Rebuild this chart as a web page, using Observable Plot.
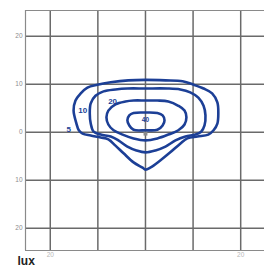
<!DOCTYPE html>
<html>
<head>
<meta charset="utf-8">
<script src="https://cdn.jsdelivr.net/npm/d3@7"></script>
<script src="https://cdn.jsdelivr.net/npm/@observablehq/plot@0.6"></script>
<style>
  html, body { margin: 0; padding: 0; background: #fff; }
  #chart { position: relative; width: 265px; height: 266px; overflow: hidden; }
</style>
</head>
<body>
<div id="chart"></div>
<script>
// Isolux contour levels (lux)
const levels = [5, 10, 20, 40];

// Contour 5 lux
const c5x = [0, 4.2, 7.8, 10.1, 12.2, 14.0, 15.1, 15.3, 15.1, 14.3, 13.2, 10.9, 8.8, 7.3, 5.2, 3.1, 1.0, 0, -0.6, -2.5, -4.6, -6.3, -7.8, -9.4, -11.5, -13.2, -14.0, -14.5, -15.1, -14.7, -13.6, -12.2, -10.1, -7.3, -3.6];
const c5y = [10.9, 10.8, 10.6, 9.9, 9.1, 8.1, 6.2, 3.9, 1.8, 0.4, -0.5, -0.9, -1.3, -2.4, -4.2, -5.9, -7.4, -7.8, -7.4, -6.3, -4.4, -2.8, -1.5, -1.1, -0.7, -0.3, 0.4, 1.8, 4.5, 6.6, 8.1, 9.3, 9.9, 10.4, 10.8];

// Contour 10 lux
const c10x = [0, 4.6, 7.3, 9.4, 11.1, 12.2, 12.6, 12.4, 11.7, 10.5, 8.4, 6.3, 4.2, 2.1, 0, -1.9, -3.8, -5.7, -7.3, -9.4, -10.9, -11.5, -11.7, -11.5, -10.5, -8.8, -6.3, -3.8];
const c10y = [9.1, 9.1, 8.9, 8.3, 7.2, 5.5, 3.5, 1.4, 0.1, -0.5, -0.9, -1.7, -3.0, -3.8, -4.2, -3.8, -3.0, -1.7, -0.9, -0.5, 0.1, 1.8, 3.9, 6.0, 7.6, 8.5, 8.9, 9.1];

// Contour 20 lux
const c20x = [0, 2.5, 4.8, 6.9, 8.2, 8.6, 8.2, 6.9, 4.8, 2.5, 0, -2.5, -4.8, -6.7, -7.8, -8.2, -7.8, -6.3, -4.2, -2.5];
const c20y = [6.6, 6.6, 6.4, 5.5, 4.5, 3.1, 1.6, 0.4, -0.5, -1.3, -1.7, -1.3, -0.5, 0.4, 1.6, 3.1, 4.5, 5.8, 6.4, 6.6];

// Contour 40 lux
const c40x = [-2.5, 0, 2.5, 3.6, 4.0, 3.6, 2.5, 0, -2.5, -3.4, -3.8, -3.4];
const c40y = [4.0, 4.1, 4.0, 3.5, 2.5, 1.4, 0.5, 0.4, 0.5, 1.4, 2.5, 3.5];

// Contour label positions
const labelText = ["5", "10", "20", "40"];
const labelX = [-16.1, -13.2, -6.9, 0];
const labelY = [0.6, 4.6, 6.5, 2.6];
const labelSize = [8, 8, 8, 6.5];

// Axis ticks (distance in m)
const gridTicks = [-20, -10, 0, 10, 20];
const xTickLabels = [-20, 20];

// Luminaire position
const lumX = [0];
const lumY = [-0.3];

const contours = [c5x, c10x, c20x, c40x].flatMap((xs, i) => {
  const ys = [c5y, c10y, c20y, c40y][i];
  return xs.map((x, j) => ({level: levels[i], x, y: ys[j]}));
});
const labels = labelText.map((t, i) => ({t, x: labelX[i], y: labelY[i], s: labelSize[i]}));
const lum = lumX.map((x, i) => ({x, y: lumY[i]}));

const blue = "#1c3f96";
const gridColor = "#6a6a6a";

const plot = Plot.plot({
  width: 265,
  height: 266,
  marginLeft: 25,
  marginRight: 1,
  marginTop: 10,
  marginBottom: 16,
  style: {background: "#fff", fontFamily: "Liberation Sans, Arial, sans-serif"},
  x: {domain: [-25.2, 25], axis: null},
  y: {domain: [-24.65, 25.35], axis: null},
  marks: [
    Plot.ruleX(gridTicks, {stroke: gridColor, strokeWidth: 1.5}),
    Plot.ruleY(gridTicks, {stroke: gridColor, strokeWidth: 1.5}),
    Plot.ruleX([-25.2], {stroke: "#8a8a8a", strokeWidth: 1.2}),
    Plot.ruleY([25.35, -24.65], {stroke: "#8a8a8a", strokeWidth: 1.2}),
    Plot.axisY(gridTicks, {tickSize: 0, tickPadding: 3, fontSize: 6.5, fill: "#8c8c8c", tickFormat: d => Math.abs(d), label: null}),
    Plot.axisX(xTickLabels, {tickSize: 0, tickPadding: 2, fontSize: 6.5, fill: "#b8b8b8", tickFormat: d => Math.abs(d), label: null}),
    Plot.dot(lum, {x: "x", y: "y", symbol: "square", r: 2.2, fill: "#8a8a8a"}),
    Plot.line(contours, {x: "x", y: "y", z: "level", curve: "catmull-rom-closed", stroke: blue, strokeWidth: 2.6, strokeLinejoin: "round"}),
    Plot.text(labels, {x: "x", y: "y", text: "t", fill: blue, fontSize: d => d.s, fontWeight: "bold"}),
    Plot.text(["lux"], {frameAnchor: "bottom-left", dx: -8, dy: 14, text: d => d, textAnchor: "start", fontSize: 12, fontWeight: "bold", fill: "#222"})
  ]
});
document.getElementById("chart").appendChild(plot);
</script>
</body>
</html>
